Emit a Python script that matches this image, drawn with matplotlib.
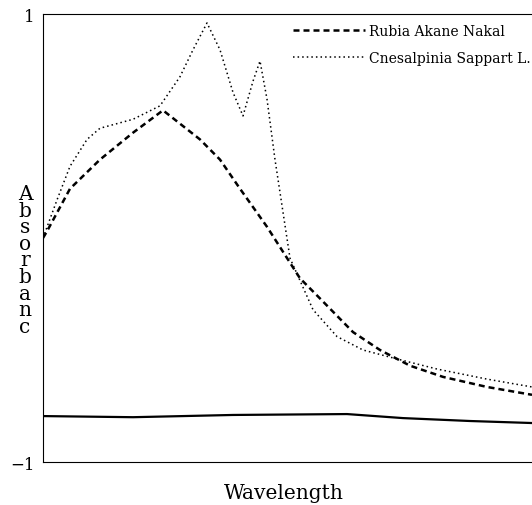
import matplotlib.pyplot as plt
import numpy as np

plt.rcParams['font.family'] = ['DejaVu Serif']

# wavelength positions (arbitrary units, 0 = left axis) and absorbance
x_rubia = [0, 4, 27, 57, 90, 120, 157, 177, 197, 224, 257, 277, 310, 337, 367, 400, 444, 489]
y_rubia = [0.0, 0.03, 0.22, 0.35, 0.47, 0.57, 0.44, 0.35, 0.22, 0.05, -0.18, -0.27, -0.42, -0.50, -0.57, -0.62, -0.665, -0.70]

x_cnes = [0, 14, 27, 44, 57, 90, 117, 137, 150, 164, 177, 190, 200, 210, 217, 224, 232, 247, 270, 294, 320, 354, 394, 444, 489]
y_cnes = [0.0, 0.17, 0.32, 0.44, 0.49, 0.53, 0.59, 0.72, 0.84, 0.96, 0.84, 0.65, 0.545, 0.70, 0.79, 0.62, 0.35, -0.09, -0.32, -0.44, -0.50, -0.54, -0.585, -0.63, -0.665]

x_base = [0, 90, 190, 304, 360, 427, 489]
y_base = [-0.795, -0.80, -0.79, -0.786, -0.804, -0.817, -0.826]

fig = plt.figure(figsize=(5.32, 5.06), dpi=100)
ax = fig.add_axes([43/532, 43/506, 1 - 43/532, 448/506])

ax.plot(x_rubia, y_rubia, color='black', lw=1.8, dashes=(2.4, 1.6), label='Rubia Akane Nakal')
ax.plot(x_cnes, y_cnes, color='black', lw=1.1, ls=(0, (1, 2.0)), label='Cnesalpinia Sappart L.')
ax.plot(x_base, y_base, color='black', lw=1.6)

ax.set_xlim(0, 489)
ax.set_ylim(-1, 1)
ax.set_xticks([])
ax.set_yticks([-1, 1])
ax.set_yticklabels(['\u22121', '1'], fontsize=12)
ax.tick_params(axis='y', length=0, pad=6)
ax.spines['right'].set_visible(False)

ax.legend(loc='upper left', bbox_to_anchor=(293/532, 1 - 25/506), bbox_transform=fig.transFigure,
          frameon=False, fontsize=10, borderpad=0, borderaxespad=0,
          handlelength=5.2, handletextpad=0.25, labelspacing=0.9)

fig.text(25/532, 1 - 261/506, '\n'.join('Absorbanc'), ha='center', va='center',
         fontsize=14.5, linespacing=0.84)
fig.text(284/532, 1 - 494/506, 'Wavelength', ha='center', va='center', fontsize=14.5)

fig.savefig('out.png', dpi=100)
